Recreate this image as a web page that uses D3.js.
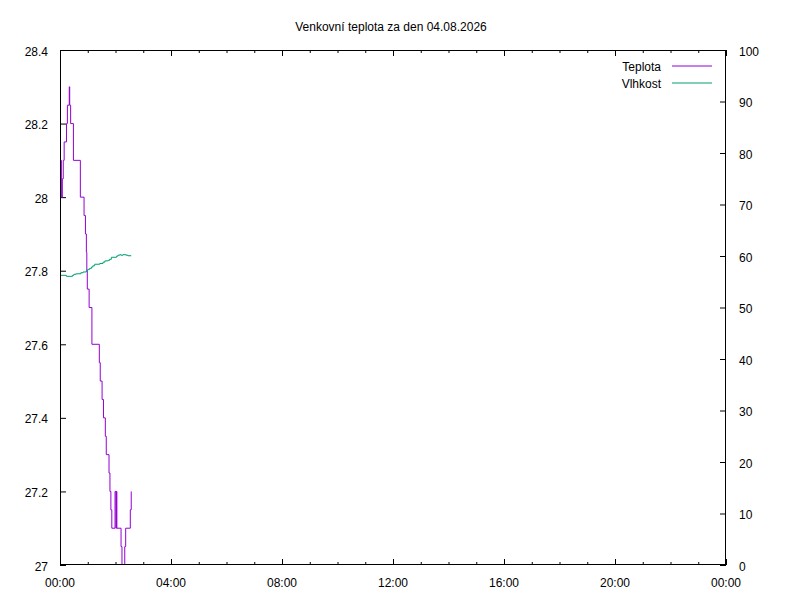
<!DOCTYPE html>
<html>
<head>
<meta charset="utf-8">
<script src="https://cdn.jsdelivr.net/npm/d3@7/dist/d3.min.js"></script>
<style>
  body { margin: 0; background: #fff; }
  svg text { font-family: "Liberation Sans", Arial, sans-serif; font-size: 12px; fill: #000; }
</style>
</head>
<body>
<svg id="chart" width="800" height="600"></svg>
<script>
// ---- data ----
const title = "Venkovní teplota za den 04.08.2026";
const seriesNames = ["Teplota", "Vlhkost"];
const seriesColors = ["#9400d3", "#009e73"];

// temperature: minutes since midnight, value °C
const tempMinutes = [0, 3, 5, 7, 9, 14, 16, 20, 21, 23, 29, 44, 52, 55, 57, 58, 59, 63, 69, 85, 87, 91, 94, 98, 100, 106, 108, 110, 112, 119, 121, 122, 123, 132, 134, 140, 142, 152, 154];
const tempValues  = [28.1, 28.0, 28.05, 28.1, 28.15, 28.2, 28.25, 28.3, 28.25, 28.2, 28.1, 28.0, 27.95, 27.9, 27.85, 27.8, 27.75, 27.7, 27.6, 27.55, 27.5, 27.45, 27.4, 27.35, 27.3, 27.25, 27.2, 27.15, 27.1, 27.2, 27.1, 27.2, 27.1, 27.05, 27.0, 27.05, 27.1, 27.15, 27.2];

// humidity: minutes since midnight, value %
const humMinutes = [0, 14, 27, 30, 35, 45, 50, 57, 60, 64, 68, 71, 75, 86, 93, 97, 104, 107, 111, 122, 125, 129, 132, 136, 143, 147, 154];
const humValues  = [56.25, 56.05, 56.25, 56.45, 56.55, 56.75, 56.9, 57.2, 57.4, 57.6, 57.85, 58.1, 58.4, 58.55, 58.8, 59.05, 59.15, 59.35, 59.75, 59.95, 60.15, 60.25, 60.15, 60.25, 60.15, 60.05, 60.05];

const xTickLabels = ["00:00", "04:00", "08:00", "12:00", "16:00", "20:00", "00:00"];
const yTicks  = [27, 27.2, 27.4, 27.6, 27.8, 28, 28.2, 28.4];
const y2Ticks = [0, 10, 20, 30, 40, 50, 60, 70, 80, 90, 100];

// ---- layout ----
const L = 60, R = 726, T = 50, B = 565;
const svg = d3.select("#chart");

const x = d3.scaleLinear().domain([0, 24 * 60]).range([L, R]);
const y = d3.scaleLinear().domain([27, 28.4]).range([B, T]);
const y2 = d3.scaleLinear().domain([0, 100]).range([B, T]);

const majorX = d3.range(0, 24 * 60 + 1, 240);
const minorX = d3.range(0, 24 * 60 + 1, 60).filter(m => m % 240 !== 0);

// axes with inward ticks
const axBottom = svg.append("g").attr("transform", `translate(0,${B})`)
  .call(d3.axisTop(x).tickValues(majorX).tickSize(6).tickFormat(""));
const axBottomMinor = svg.append("g").attr("transform", `translate(0,${B})`)
  .call(d3.axisTop(x).tickValues(minorX).tickSize(3).tickFormat(""));
const axTop = svg.append("g").attr("transform", `translate(0,${T})`)
  .call(d3.axisBottom(x).tickValues(majorX).tickSize(6).tickFormat(""));
const axTopMinor = svg.append("g").attr("transform", `translate(0,${T})`)
  .call(d3.axisBottom(x).tickValues(minorX).tickSize(3).tickFormat(""));
const axLeft = svg.append("g").attr("transform", `translate(${L},0)`)
  .call(d3.axisRight(y).tickValues(yTicks).tickSize(6).tickFormat(""));
const axRight = svg.append("g").attr("transform", `translate(${R},0)`)
  .call(d3.axisLeft(y2).tickValues(y2Ticks).tickSize(6).tickFormat(""));

[axBottom, axBottomMinor, axTop, axTopMinor, axLeft, axRight].forEach(g => {
  g.select(".domain").remove();
  g.selectAll("line").attr("stroke", "#000").attr("stroke-width", 1);
});

// tick labels
svg.append("g").selectAll("text").data(majorX).join("text")
  .attr("x", d => x(d)).attr("y", B + 21.5)
  .attr("text-anchor", "middle")
  .text((d, i) => xTickLabels[i]);
svg.append("g").selectAll("text").data(yTicks).join("text")
  .attr("x", L - 12).attr("y", d => y(d) + 5.5)
  .attr("text-anchor", "end")
  .text(d => d3.format("~g")(d));
svg.append("g").selectAll("text").data(y2Ticks).join("text")
  .attr("x", R + 13).attr("y", d => y2(d) + 5.5)
  .attr("text-anchor", "start")
  .text(d => d);

// clip
svg.append("clipPath").attr("id", "plot")
  .append("rect").attr("x", L).attr("y", T).attr("width", R - L).attr("height", B - T);

// series
const tempData = tempMinutes.map((m, i) => [m, tempValues[i]]);
const humData = humMinutes.map((m, i) => [m, humValues[i]]);

const tempLine = d3.line().x(d => x(d[0])).y(d => y(d[1])).curve(d3.curveStepAfter);
const humLine = d3.line().x(d => x(d[0])).y(d => y2(d[1])).curve(d3.curveStepAfter);

const plot = svg.append("g").attr("clip-path", "url(#plot)");
plot.append("path").datum(tempData).attr("d", tempLine)
  .attr("fill", "none").attr("stroke", seriesColors[0]).attr("stroke-width", 1);
plot.append("path").datum(humData).attr("d", humLine)
  .attr("fill", "none").attr("stroke", seriesColors[1]).attr("stroke-width", 1);

// border
svg.append("rect").attr("x", L + 0.5).attr("y", T + 0.5)
  .attr("width", R - L - 1).attr("height", B - T - 1)
  .attr("fill", "none").attr("stroke", "#000").attr("stroke-width", 1);

// title
svg.append("text").attr("x", 391).attr("y", 30.5)
  .attr("text-anchor", "middle").text(title);

// legend
const legend = svg.append("g");
seriesNames.forEach((name, i) => {
  const baseY = 70.5 + i * 17;
  legend.append("text").attr("x", 661).attr("y", baseY)
    .attr("text-anchor", "end").text(name);
  legend.append("line").attr("x1", 672).attr("x2", 712)
    .attr("y1", baseY - 4.5).attr("y2", baseY - 4.5)
    .attr("stroke", seriesColors[i]).attr("stroke-width", 1);
});
</script>
</body>
</html>
